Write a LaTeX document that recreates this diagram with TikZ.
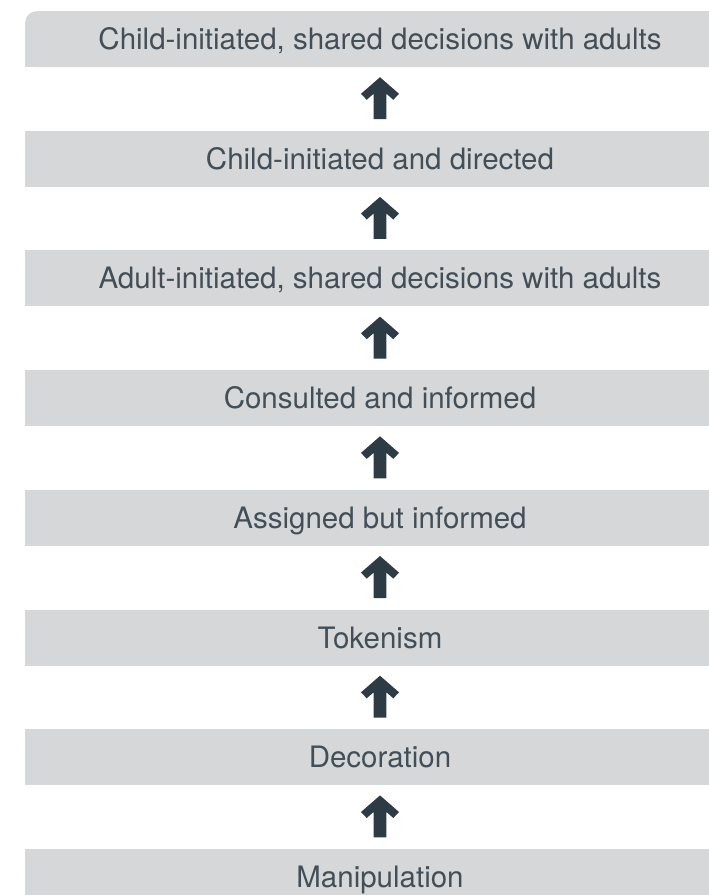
\documentclass[tikz,border=0pt]{standalone}
\usepackage{fontspec}
\setmainfont{TeX Gyre Heros}
\usetikzlibrary{positioning}
\definecolor{barfill}{HTML}{D6D7D8}
\definecolor{bartext}{HTML}{434F58}
\definecolor{arrowdark}{HTML}{2D3B45}
\tikzset{
  rung/.style={fill=barfill, text=bartext, minimum width=710pt, minimum height=56pt,
    inner sep=0pt, text height=21pt, text depth=0pt,
    font=\fontsize{29.5}{34}\selectfont},
  uparrow/.style={fill=arrowdark,
    to path={([yshift=-10pt]\tikztotarget) -- ++(-19,16.6) -- ++(5.7,6) -- ++(7,-6.1)
      -- ++(0,25.5) -- ++(12.6,0) -- ++(0,-25.5) -- ++(7,6.1) -- ++(5.7,-6) -- cycle}}
}
\begin{document}
\begin{tikzpicture}[x=1pt, y=-1pt]
    \clip (0,0) rectangle (709,895);
    \useasboundingbox (0,0) rectangle (709,895);
    \node[rung, rounded corners=12pt] (shared) at (380,39) {Child-initiated, shared decisions with adults};
    \fill[barfill] (shared.south west) rectangle ++(20,-20);
    \node[rung, below=63.3pt of shared] (directed) {Child-initiated and directed};
    \node[rung, below=63.3pt of directed] (adultinit) {Adult-initiated, shared decisions with adults};
    \node[rung, below=63.3pt of adultinit] (consulted) {Consulted and informed};
    \node[rung, below=63.3pt of consulted] (assigned) {Assigned but informed};
    \node[rung, below=63.3pt of assigned] (token) {Tokenism};
    \node[rung, below=63.3pt of token] (decor) {Decoration};
    \node[rung, below=63.3pt of decor] (manip) {Manipulation};
    \fill[uparrow] (directed.north) to (shared.south);
    \fill[uparrow] (adultinit.north) to (directed.south);
    \fill[uparrow] (consulted.north) to (adultinit.south);
    \fill[uparrow] (assigned.north) to (consulted.south);
    \fill[uparrow] (token.north) to (assigned.south);
    \fill[uparrow] (decor.north) to (token.south);
    \fill[uparrow] (manip.north) to (decor.south);
\end{tikzpicture}
\end{document}
